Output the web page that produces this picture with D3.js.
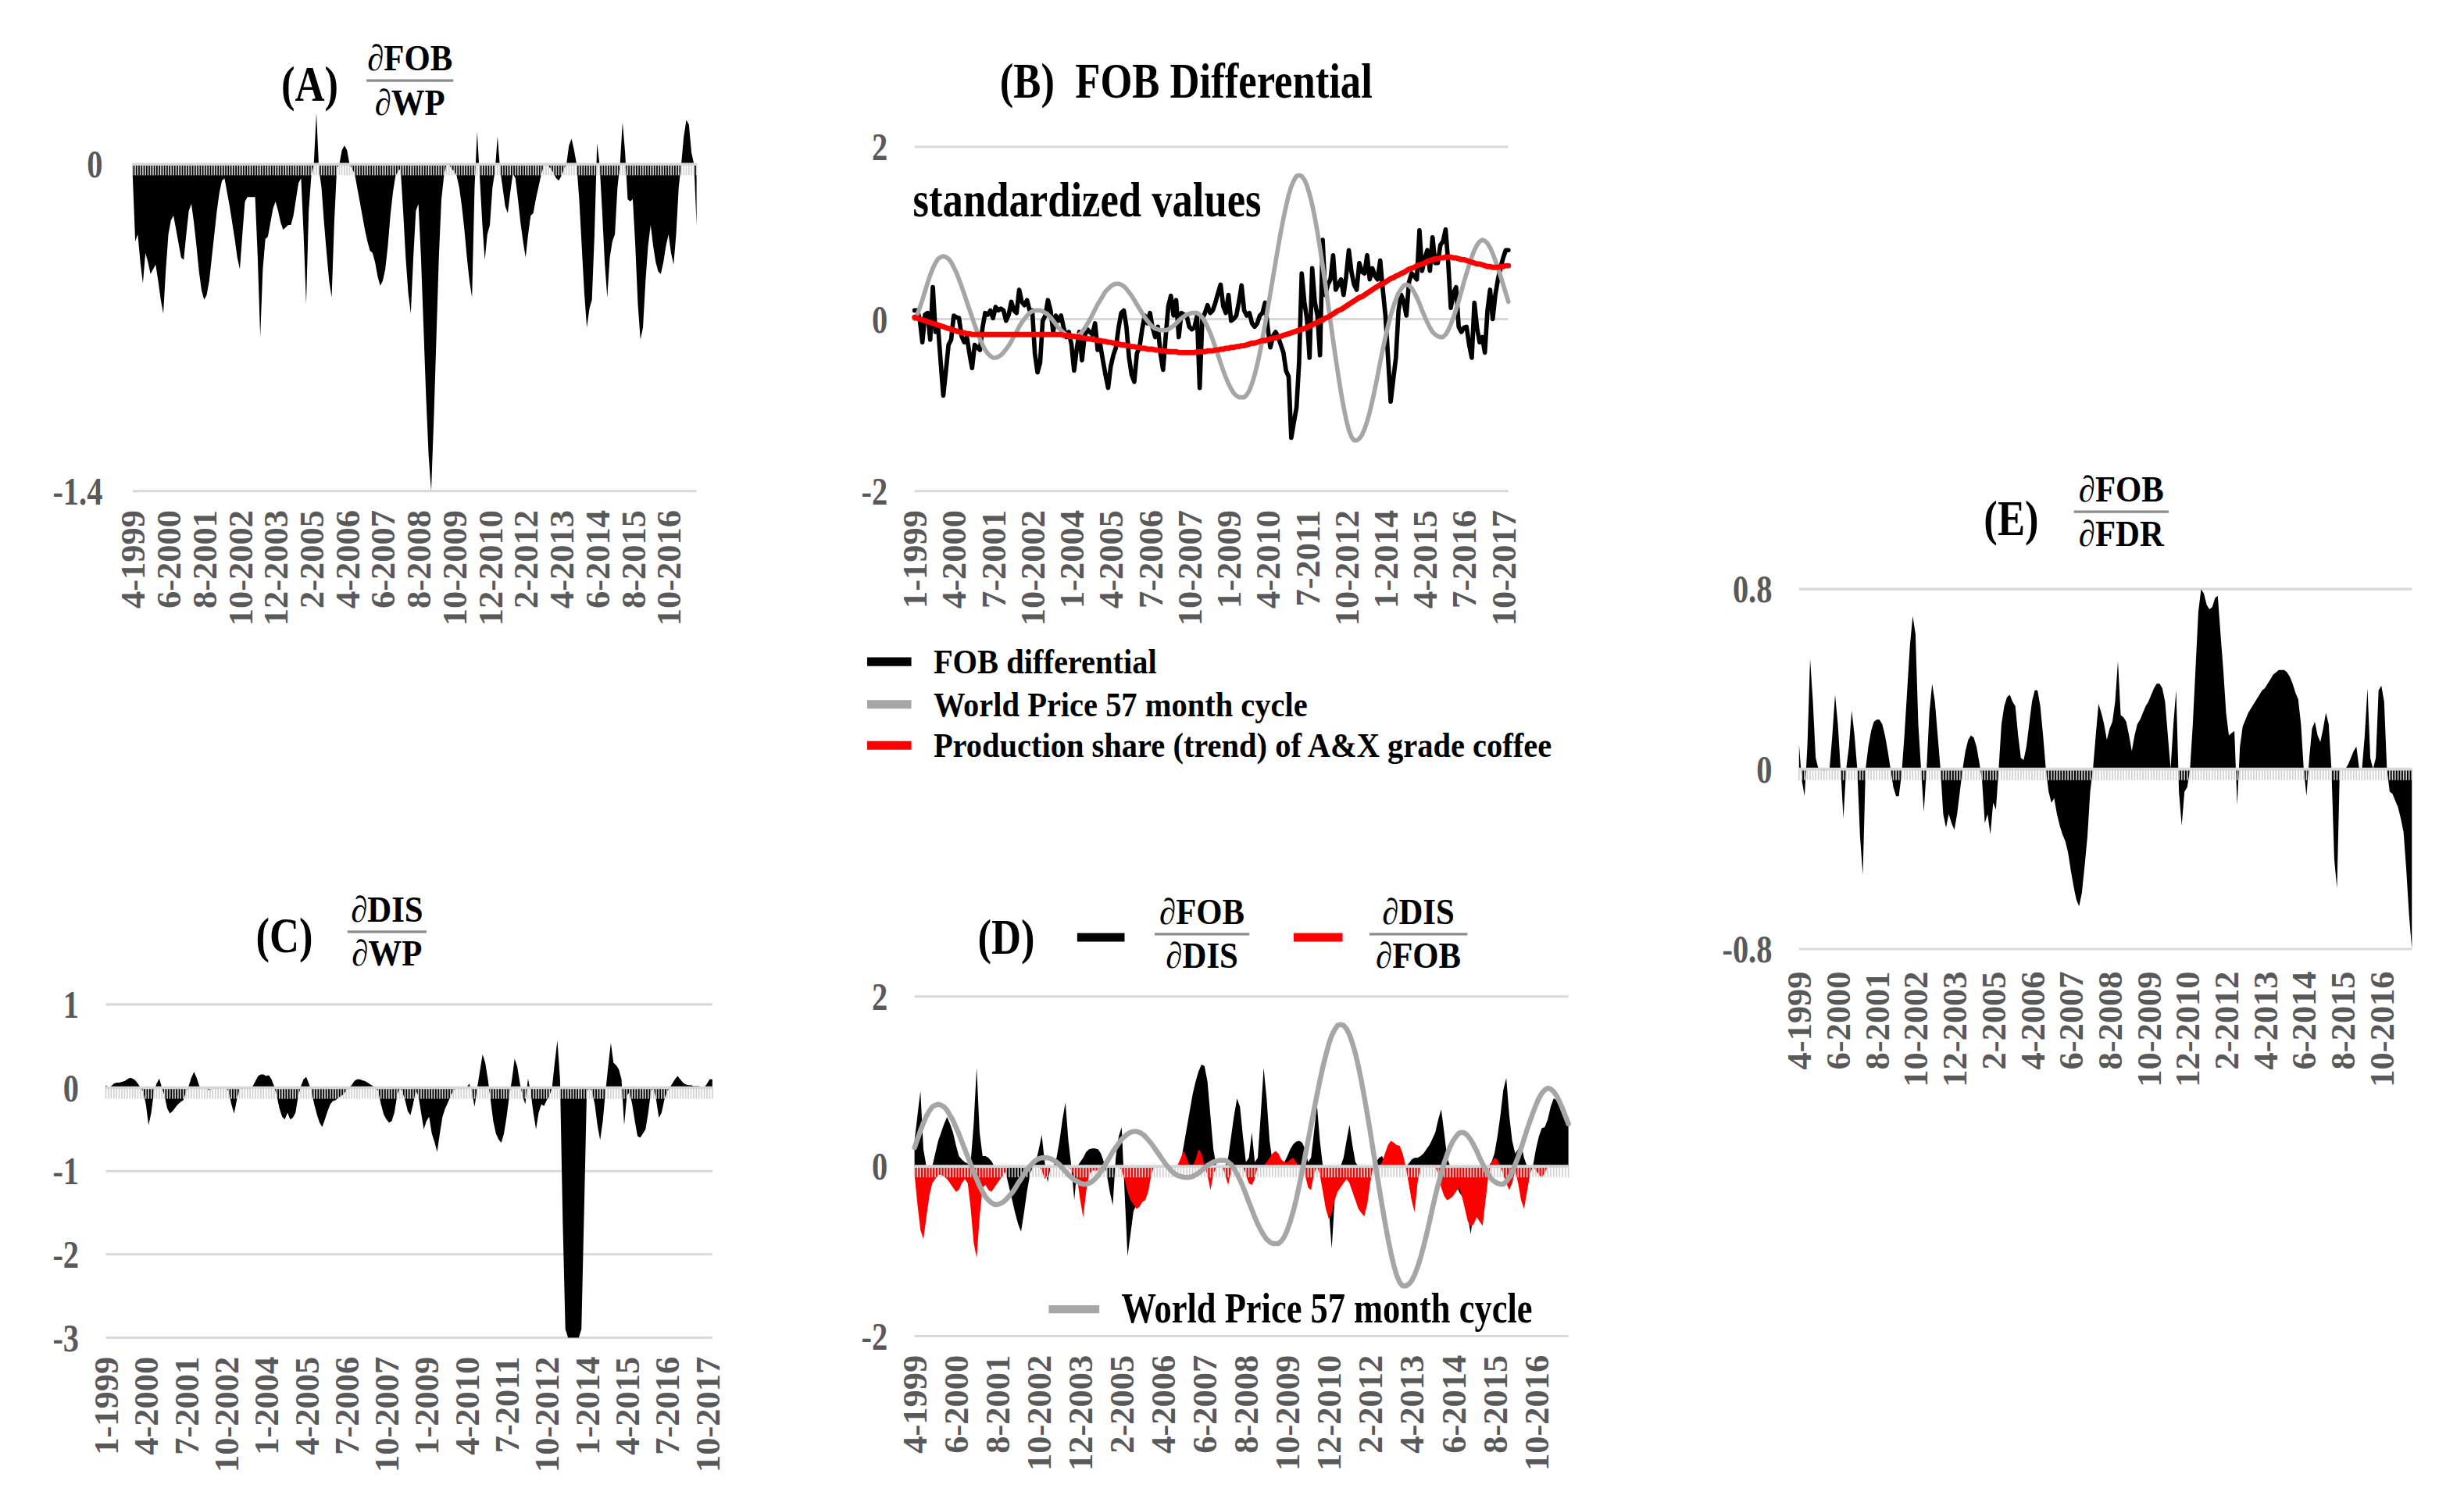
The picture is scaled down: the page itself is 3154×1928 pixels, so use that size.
<!DOCTYPE html>
<html><head><meta charset="utf-8">
<script src="https://cdn.jsdelivr.net/npm/d3@7"></script>
<style>
body{margin:0;background:#fff;}
svg{display:block;}
text{font-family:"Liberation Serif","Times New Roman",serif;font-weight:bold;white-space:pre;}
</style>
</head><body>
<svg id="chart" width="3154" height="1928" viewBox="0 0 1560 953.6"></svg>
<script>
// ---------------- DATA ----------------
const startAE = [4, 1999], countAE = 222;   // panels A, D, E : 4-1999 ...
const startBC = [1, 1999], countBC = 228;   // panels B, C    : 1-1999 ...
const ticksAE = ["4-1999","6-2000","8-2001","10-2002","12-2003","2-2005","4-2006","6-2007","8-2008","10-2009","12-2010","2-2012","4-2013","6-2014","8-2015","10-2016"];
const ticksBC = ["1-1999","4-2000","7-2001","10-2002","1-2004","4-2005","7-2006","10-2007","1-2009","4-2010","7-2011","10-2012","1-2014","4-2015","7-2016","10-2017"];

// (A) dFOB/dWP
const fobWP = [
 -0.05,-0.33,-0.30,-0.42,-0.51,-0.38,-0.42,-0.47,-0.45,-0.43,
 -0.50,-0.58,-0.64,-0.45,-0.30,-0.24,-0.22,-0.28,-0.34,-0.40,
 -0.41,-0.30,-0.20,-0.17,-0.25,-0.35,-0.46,-0.54,-0.58,-0.56,
 -0.50,-0.40,-0.30,-0.20,-0.12,-0.07,-0.06,-0.12,-0.18,-0.25,
 -0.32,-0.40,-0.45,-0.30,-0.16,-0.14,-0.14,-0.14,-0.14,-0.40,
 -0.74,-0.45,-0.32,-0.31,-0.25,-0.19,-0.16,-0.20,-0.25,-0.28,
 -0.27,-0.26,-0.26,-0.22,-0.15,-0.08,-0.06,-0.30,-0.60,-0.20,
 -0.05,0.00,0.22,-0.02,-0.10,-0.25,-0.38,-0.50,-0.57,-0.25,
 -0.02,0.00,0.06,0.08,0.06,0.00,-0.02,-0.04,-0.10,-0.16,
 -0.22,-0.28,-0.33,-0.37,-0.38,-0.42,-0.48,-0.52,-0.50,-0.45,
 -0.35,-0.22,-0.12,-0.05,-0.03,-0.02,-0.20,-0.40,-0.55,-0.64,
 -0.40,-0.20,-0.17,-0.40,-0.70,-1.00,-1.25,-1.40,-1.10,-0.75,
 -0.40,-0.15,-0.05,0.00,0.00,-0.02,-0.03,-0.05,-0.10,-0.18,
 -0.28,-0.40,-0.50,-0.57,-0.10,0.14,-0.05,-0.25,-0.41,-0.30,
 -0.26,-0.10,-0.03,0.12,-0.02,-0.10,-0.18,-0.21,-0.12,-0.04,
 -0.06,-0.15,-0.25,-0.33,-0.40,-0.30,-0.22,-0.21,-0.15,-0.10,
 -0.05,-0.01,0.00,-0.01,-0.02,-0.04,-0.06,-0.07,-0.05,-0.02,
 0.00,0.08,0.11,0.06,0.00,-0.15,-0.35,-0.55,-0.70,-0.62,
 -0.58,-0.30,0.09,0.00,-0.20,-0.42,-0.57,-0.40,-0.33,-0.30,
 -0.10,0.00,0.18,0.05,-0.15,-0.16,-0.15,-0.35,-0.60,-0.75,
 -0.70,-0.50,-0.35,-0.26,-0.35,-0.42,-0.46,-0.47,-0.42,-0.35,
 -0.30,-0.38,-0.43,-0.30,-0.10,0.00,0.12,0.19,0.17,0.05,
 0.00,-0.26];

// (B) FOB differential (standardized)
const fobDiff = [
 0.10,0.10,0.00,-0.27,0.05,0.07,-0.24,0.37,-0.15,-0.09,
 -0.50,-0.89,-0.60,-0.30,-0.24,0.04,0.02,0.01,-0.20,-0.27,
 -0.21,-0.40,-0.57,-0.30,-0.33,-0.36,-0.10,0.07,0.05,0.10,
 0.01,0.14,0.10,0.12,0.10,-0.02,0.05,0.20,0.10,0.07,
 0.34,0.20,0.16,0.22,0.10,0.10,-0.40,-0.62,-0.51,-0.02,
 0.04,0.22,0.10,-0.15,0.04,-0.02,0.04,-0.10,-0.21,-0.15,
 -0.30,-0.60,-0.35,-0.15,-0.48,-0.20,-0.12,-0.15,-0.18,-0.05,
 -0.36,-0.30,-0.48,-0.65,-0.80,-0.55,-0.42,-0.33,-0.10,0.07,
 0.10,-0.09,-0.45,-0.65,-0.73,-0.40,-0.33,-0.12,0.04,-0.05,
 0.07,-0.10,-0.21,-0.09,-0.40,-0.59,-0.21,0.15,0.27,0.04,
 0.22,-0.21,0.07,0.05,0.04,-0.09,-0.12,-0.10,0.04,-0.80,
 0.00,0.07,0.16,0.07,0.10,0.19,0.30,0.40,0.15,0.07,
 0.28,-0.02,0.00,0.04,0.20,0.39,0.10,0.04,0.07,-0.05,
 -0.09,-0.05,0.04,0.07,0.19,-0.10,-0.33,-0.20,-0.15,-0.21,
 -0.30,-0.39,-0.60,-0.67,-1.38,-1.20,-1.03,-0.50,0.53,0.20,
 0.00,-0.45,0.59,0.20,0.04,-0.42,0.92,0.28,0.40,0.46,
 0.74,0.34,0.40,0.46,0.28,0.50,0.80,0.55,0.40,0.34,
 0.65,0.55,0.53,0.74,0.46,0.59,0.50,0.46,0.68,0.34,
 0.04,-0.45,-0.96,-0.70,-0.45,0.10,0.28,0.20,0.04,0.43,
 0.53,0.50,0.46,1.03,0.56,0.70,0.80,0.56,0.95,0.65,
 0.65,0.86,0.90,1.04,0.65,0.13,0.30,0.37,-0.09,-0.15,
 -0.10,-0.09,-0.30,-0.45,0.19,-0.10,-0.27,-0.21,-0.39,0.10,
 0.34,0.00,0.28,0.46,0.60,0.71,0.80,0.80];

// World Price 57 month cycle (from 1-1999)
const worldCycle = [
 0.00,0.05,0.13,0.22,0.32,0.42,0.51,0.59,0.65,0.70,0.72,0.73,
 0.72,0.70,0.66,0.60,0.54,0.46,0.38,0.29,0.20,0.11,0.02,-0.07,-0.15,-0.23,-0.30,-0.36,-0.40,-0.43,-0.45,-0.45,
 -0.44,-0.42,-0.39,-0.35,-0.31,-0.26,-0.20,-0.15,-0.09,-0.04,0.00,0.04,0.07,0.09,0.10,0.10,0.10,
 0.09,0.07,0.05,0.02,-0.02,-0.06,-0.10,-0.13,-0.16,-0.18,-0.20,-0.21,-0.21,
 -0.20,-0.18,-0.15,-0.11,-0.06,-0.01,0.05,0.11,0.17,0.22,0.27,0.32,0.35,0.38,0.40,0.41,0.41,
 0.40,0.38,0.35,0.31,0.27,0.22,0.17,0.12,0.07,0.02,-0.02,-0.06,-0.09,-0.11,-0.12,-0.13,-0.13,-0.13,
 -0.12,-0.10,-0.08,-0.05,-0.02,0.01,0.03,0.05,0.06,0.07,0.07,0.07,
 0.05,0.02,-0.03,-0.09,-0.16,-0.24,-0.33,-0.42,-0.51,-0.60,-0.68,-0.75,-0.81,-0.86,-0.89,-0.91,-0.91,-0.91,
 -0.88,-0.83,-0.75,-0.65,-0.53,-0.39,-0.23,-0.06,0.12,0.30,0.48,0.66,0.84,1.01,1.17,1.31,1.44,1.54,1.61,1.66,1.67,
 1.66,1.62,1.55,1.45,1.33,1.18,1.01,0.82,0.62,0.41,0.19,-0.03,-0.25,-0.46,-0.66,-0.85,-1.02,-1.17,-1.29,-1.37,-1.41,-1.41,
 -1.39,-1.35,-1.28,-1.19,-1.08,-0.95,-0.81,-0.66,-0.50,-0.35,-0.21,-0.08,0.04,0.14,0.23,0.30,0.35,0.39,0.40,
 0.39,0.36,0.31,0.25,0.18,0.10,0.03,-0.04,-0.10,-0.15,-0.18,-0.20,-0.21,-0.21,
 -0.18,-0.13,-0.06,0.02,0.11,0.21,0.32,0.43,0.53,0.63,0.72,0.80,0.86,0.90,0.92,
 0.91,0.88,0.83,0.76,0.68,0.59,0.50,0.40,0.30,0.20];

// Production share (trend) of A&X grade coffee
const prodShare = [
 0.02,0.01,0.00,-0.01,-0.02,-0.03,-0.04,-0.05,-0.06,-0.07,
 -0.08,-0.09,-0.10,-0.11,-0.12,-0.13,-0.14,-0.15,-0.16,-0.16,
 -0.17,-0.17,-0.18,-0.18,-0.18,-0.18,-0.18,-0.18,-0.18,-0.18,
 -0.18,-0.18,-0.18,-0.18,-0.18,-0.18,-0.18,-0.18,-0.18,-0.18,
 -0.18,-0.18,-0.18,-0.18,-0.18,-0.18,-0.18,-0.18,-0.18,-0.18,
 -0.18,-0.18,-0.18,-0.18,-0.18,-0.18,-0.18,-0.19,-0.19,-0.19,
 -0.20,-0.20,-0.21,-0.21,-0.22,-0.22,-0.23,-0.23,-0.24,-0.24,
 -0.25,-0.25,-0.26,-0.26,-0.27,-0.27,-0.28,-0.28,-0.29,-0.30,
 -0.30,-0.31,-0.31,-0.32,-0.32,-0.33,-0.33,-0.34,-0.34,-0.35,
 -0.35,-0.35,-0.36,-0.36,-0.37,-0.37,-0.37,-0.38,-0.38,-0.38,
 -0.38,-0.39,-0.39,-0.39,-0.39,-0.39,-0.39,-0.39,-0.38,-0.38,
 -0.38,-0.38,-0.37,-0.37,-0.37,-0.36,-0.36,-0.35,-0.35,-0.34,
 -0.34,-0.33,-0.33,-0.32,-0.32,-0.31,-0.31,-0.30,-0.29,-0.28,
 -0.28,-0.27,-0.26,-0.25,-0.25,-0.24,-0.23,-0.22,-0.22,-0.21,
 -0.20,-0.19,-0.18,-0.17,-0.16,-0.15,-0.14,-0.13,-0.12,-0.11,
 -0.10,-0.08,-0.07,-0.05,-0.04,-0.02,-0.01,0.01,0.02,0.04,
 0.06,0.08,0.10,0.11,0.13,0.15,0.17,0.19,0.21,0.23,
 0.25,0.26,0.28,0.30,0.32,0.34,0.36,0.38,0.40,0.41,
 0.43,0.45,0.47,0.48,0.50,0.51,0.53,0.54,0.56,0.58,
 0.59,0.60,0.62,0.63,0.64,0.65,0.67,0.68,0.69,0.70,
 0.70,0.71,0.71,0.72,0.72,0.72,0.71,0.71,0.70,0.69,
 0.69,0.68,0.67,0.66,0.65,0.64,0.64,0.63,0.62,0.61,
 0.61,0.60,0.60,0.60,0.61,0.61,0.62,0.62];

// (C) dDIS/dWP
const disWP = [
 0.03,0.00,0.02,0.05,0.06,0.06,0.07,0.08,0.10,0.12,
 0.11,0.09,0.05,0.00,-0.05,-0.20,-0.45,-0.30,-0.05,0.05,
 0.11,0.00,-0.10,-0.25,-0.31,-0.28,-0.24,-0.20,-0.17,-0.15,
 -0.05,0.02,0.12,0.19,0.12,0.02,0.00,0.00,-0.02,-0.03,
 0.00,0.00,-0.02,0.00,0.00,0.00,-0.05,-0.20,-0.31,-0.15,
 -0.02,0.00,0.00,-0.02,0.00,0.02,0.08,0.14,0.16,0.16,
 0.14,0.15,0.10,0.02,-0.10,-0.25,-0.35,-0.38,-0.30,-0.38,
 -0.36,-0.30,-0.10,0.02,0.10,0.13,0.05,-0.05,-0.20,-0.32,
 -0.42,-0.47,-0.38,-0.28,-0.20,-0.16,-0.15,-0.12,-0.10,-0.08,
 -0.03,0.00,0.03,0.08,0.10,0.10,0.09,0.08,0.06,0.04,
 0.02,0.00,-0.05,-0.20,-0.32,-0.38,-0.42,-0.40,-0.30,-0.10,
 0.00,-0.05,-0.15,-0.28,-0.33,-0.20,-0.03,-0.10,-0.30,-0.50,
 -0.40,-0.35,-0.55,-0.65,-0.77,-0.55,-0.35,-0.25,-0.18,-0.10,
 -0.04,0.00,0.00,-0.02,0.00,0.00,0.05,-0.05,-0.23,0.00,
 0.20,0.40,0.30,0.10,-0.15,-0.40,-0.55,-0.62,-0.66,-0.55,
 -0.35,-0.10,0.10,0.35,0.25,0.05,-0.10,-0.20,0.11,-0.05,
 -0.30,-0.50,-0.30,-0.20,-0.22,-0.15,-0.10,0.00,0.30,0.57,
 0.10,-1.60,-2.90,-3.00,-3.00,-3.00,-3.00,-3.00,-2.90,-1.50,
 -0.05,0.00,-0.05,-0.20,-0.45,-0.63,-0.40,-0.05,0.25,0.54,
 0.30,0.27,0.22,0.10,-0.45,-0.10,-0.05,-0.20,-0.40,-0.58,
 -0.60,-0.55,-0.50,-0.30,-0.05,0.00,-0.15,-0.36,-0.30,-0.15,
 -0.05,0.00,0.05,0.10,0.14,0.10,0.06,0.04,0.03,0.03,
 0.02,0.02,0.02,0.00,0.00,0.05,0.10,0.10];

// (D) dFOB/dDIS (black) and dDIS/dFOB (red)
const fobDIS = [
 0.30,0.60,0.89,0.20,0.00,0.00,0.00,0.15,0.30,0.40,
 0.50,0.58,0.50,0.40,0.25,0.12,0.08,0.05,0.03,0.05,
 0.50,1.16,0.40,0.12,0.12,0.10,0.06,0.00,0.00,0.00,
 0.00,-0.10,-0.25,-0.40,-0.55,-0.68,-0.77,-0.55,-0.30,-0.10,
 0.00,0.05,0.20,0.37,0.05,-0.19,0.00,0.00,0.10,0.30,
 0.55,0.75,0.30,0.00,-0.40,0.00,0.05,0.10,0.17,0.20,
 0.21,0.21,0.20,0.15,0.05,-0.10,-0.30,-0.46,0.10,0.35,
 0.46,-0.30,-1.06,-0.80,-0.53,-0.45,-0.40,-0.35,-0.20,-0.05,
 0.00,0.00,0.00,0.00,0.00,0.00,0.00,0.00,0.00,0.00,
 0.05,0.25,0.45,0.65,0.85,1.00,1.12,1.20,1.18,1.00,
 0.60,0.20,0.00,0.00,0.00,0.00,0.10,0.35,0.60,0.80,
 0.70,0.35,0.05,0.10,0.40,0.05,0.10,0.60,1.16,0.80,
 0.30,0.05,0.10,0.10,0.05,0.05,0.12,0.20,0.26,0.29,
 0.30,0.28,0.20,0.05,0.10,0.40,0.73,0.30,0.00,-0.20,
 -0.50,-0.97,-0.40,0.00,0.00,0.10,0.30,0.49,0.25,0.05,
 0.00,0.00,0.00,0.00,0.00,0.00,0.05,0.10,0.12,0.05,
 0.00,0.00,0.00,0.00,0.00,0.00,0.00,0.03,0.08,0.10,
 0.10,0.12,0.15,0.20,0.25,0.32,0.40,0.55,0.67,0.40,
 0.10,0.00,-0.10,-0.20,-0.30,-0.35,-0.45,-0.60,-0.80,-0.50,
 -0.30,-0.15,0.00,0.00,0.00,0.05,0.15,0.35,0.60,0.90,
 1.04,0.60,0.30,0.15,0.20,0.27,0.10,0.00,0.00,0.00,
 0.20,0.35,0.45,0.46,0.55,0.70,0.80,0.78,0.70,0.62,
 0.56,0.52];
const disFOB = [
 -0.10,-0.45,-0.75,-0.86,-0.60,-0.35,-0.20,-0.15,-0.10,-0.10,
 -0.12,-0.15,-0.20,-0.25,-0.30,-0.28,-0.20,-0.15,-0.20,-0.50,
 -0.90,-1.08,-0.60,-0.25,-0.22,-0.28,-0.30,-0.25,-0.20,-0.15,
 -0.10,-0.05,0.00,0.00,0.00,0.00,0.00,0.00,0.00,0.00,
 0.00,0.00,0.00,-0.05,-0.15,-0.10,0.00,0.00,0.00,0.00,
 0.00,0.00,0.00,-0.05,-0.10,-0.15,-0.40,-0.60,-0.30,-0.10,
 -0.05,-0.05,-0.05,0.00,0.00,0.00,0.00,0.00,0.00,0.00,
 -0.05,-0.15,-0.30,-0.40,-0.45,-0.50,-0.48,-0.42,-0.40,-0.30,
 -0.10,0.00,0.00,0.00,0.00,0.00,0.00,0.00,0.00,0.02,
 0.10,0.18,0.10,0.00,0.00,0.08,0.20,0.15,0.00,-0.10,
 -0.28,-0.10,0.00,0.00,0.00,-0.10,-0.22,-0.05,0.00,0.00,
 0.00,0.00,-0.10,-0.20,-0.22,-0.15,0.00,0.00,0.00,0.05,
 0.10,0.15,0.18,0.15,0.08,0.05,0.05,0.08,0.10,0.05,
 0.00,0.00,-0.10,-0.25,-0.28,-0.10,0.00,-0.10,-0.30,-0.50,
 -0.62,-0.55,-0.40,-0.30,-0.25,-0.20,-0.15,-0.20,-0.30,-0.40,
 -0.50,-0.55,-0.59,-0.45,-0.20,0.00,0.00,0.00,0.05,0.15,
 0.25,0.30,0.28,0.25,0.24,0.15,0.00,-0.20,-0.40,-0.54,
 -0.20,0.00,0.00,0.00,0.00,0.00,0.00,-0.10,-0.25,-0.35,
 -0.40,-0.38,-0.35,-0.30,-0.25,-0.35,-0.50,-0.65,-0.71,-0.68,
 -0.60,-0.65,-0.70,-0.40,-0.10,0.05,0.10,0.08,0.00,-0.10,
 -0.20,-0.28,-0.20,-0.05,-0.20,-0.40,-0.50,-0.30,-0.10,0.00,
 -0.05,-0.10,-0.13,-0.08,0.00,0.00,0.00,0.00,0.00,0.00,
 0.00,0.00];
// World price cycle on the panel D axis (same series, from 4-1999)
const worldCycleD = worldCycle.slice(3, 3 + countAE);

// (E) dFOB/dFDR
const fobFDR = [
 0.11,-0.05,-0.12,0.10,0.49,0.30,0.05,0.00,0.00,-0.01,
 0.00,0.00,0.15,0.33,0.20,0.00,-0.22,0.00,0.10,0.26,
 0.15,0.00,-0.30,-0.47,0.00,0.10,0.17,0.21,0.22,0.22,
 0.20,0.15,0.08,0.00,-0.08,-0.12,-0.12,-0.02,0.15,0.35,
 0.55,0.68,0.60,0.20,0.00,-0.19,0.00,0.25,0.38,0.30,
 0.15,0.00,-0.20,-0.26,-0.20,-0.24,-0.27,-0.20,-0.10,0.00,
 0.08,0.13,0.15,0.14,0.10,0.03,-0.05,-0.24,-0.20,-0.29,
 -0.15,-0.18,0.00,0.20,0.28,0.32,0.33,0.30,0.28,0.15,
 0.05,0.04,0.10,0.20,0.30,0.35,0.35,0.28,0.15,0.00,
 -0.10,-0.15,-0.13,-0.20,-0.25,-0.29,-0.32,-0.37,-0.45,-0.52,
 -0.58,-0.61,-0.55,-0.43,-0.30,-0.10,0.00,0.15,0.29,0.25,
 0.20,0.13,0.18,0.21,0.30,0.48,0.24,0.23,0.21,0.15,
 0.08,0.15,0.20,0.22,0.25,0.28,0.30,0.33,0.36,0.38,
 0.38,0.36,0.30,0.15,0.00,0.20,0.35,-0.10,-0.25,-0.10,
 -0.08,0.00,0.20,0.45,0.70,0.80,0.78,0.73,0.71,0.72,
 0.76,0.77,0.60,0.44,0.25,0.15,0.16,0.17,-0.16,0.10,
 0.19,0.22,0.25,0.27,0.29,0.31,0.33,0.35,0.36,0.38,
 0.40,0.42,0.43,0.44,0.44,0.44,0.43,0.41,0.38,0.34,
 0.31,0.20,0.00,-0.12,0.05,0.18,0.21,0.15,0.12,0.18,
 0.25,0.20,0.00,-0.40,-0.53,0.00,0.00,0.00,0.02,0.05,
 0.08,0.10,0.00,0.00,0.15,0.36,0.05,0.00,0.05,0.35,
 0.37,0.30,0.00,-0.10,-0.11,-0.14,-0.17,-0.22,-0.28,-0.45,
 -0.65,-0.80];

// ---------------- DRAWING ----------------
function months(start, n) {
  const out = []; let m = start[0], y = start[1];
  for (let i = 0; i < n; i++) { out.push(m + "-" + y); m++; if (m > 12) { m = 1; y++; } }
  return out;
}
const catsAE = months(startAE, countAE);
const catsBC = months(startBC, countBC);

const svg = d3.select("#chart");
const GRID = "#d9d9d9", LABEL = "#595959", GRAY = "#a6a6a6", RED = "#ff0000";

function sText(g, x, y, str, size, anchor, fill, sx) {
  return g.append("text")
    .attr("transform", `translate(${x},${y}) scale(${sx || 0.87},1)`)
    .attr("text-anchor", anchor).attr("fill", fill)
    .style("font-size", size + "px").text(str);
}
function frac(g, cx, ly, half, num, den) {
  g.append("line").attr("x1", cx - half).attr("x2", cx + half).attr("y1", ly).attr("y2", ly)
    .attr("stroke", "#8c8c8c").attr("stroke-width", 1.6);
  sText(g, cx, ly - 6.5, num, 23, "middle", "#000", 0.92);
  sText(g, cx, ly + 21.5, den, 23, "middle", "#000", 0.92);
}

function panel(o) {
  const g = svg.append("g");
  const x = d3.scalePoint().domain(o.cats).range([o.x0, o.x1]);
  const y = d3.scaleLinear().domain(o.yDomain).range(o.yRange);
  g.selectAll(null).data(o.grid).join("line")
    .attr("x1", o.x0).attr("x2", o.x1).attr("y1", d => y(d)).attr("y2", d => y(d))
    .attr("stroke", GRID).attr("stroke-width", 1.5);
  o.yTicks.forEach(v => sText(g, o.labelRight, y(v) + 8.5, String(v), 25, "end", LABEL, 0.8));
  g.selectAll(null).data(o.xTicks).join("text")
    .attr("transform", d => `translate(${x(d)},${o.yRange[0] + (o.labOff || 12)}) rotate(-90)`)
    .attr("text-anchor", "end").attr("dy", "0.35em")
    .attr("fill", LABEL).style("font-size", "22px").text(d => d);
  return { g, x, y, o };
}
function areaSeries(p, data, color) {
  const a = d3.area().x((d, i) => p.x(p.o.cats[i])).y0(p.y(0)).y1(d => p.y(d));
  p.g.append("path").datum(data).attr("d", a).attr("fill", color);
}
function lineSeries(p, data, color, w) {
  const l = d3.line().x((d, i) => p.x(p.o.cats[i])).y(d => p.y(d));
  p.g.append("path").datum(data).attr("d", l).attr("fill", "none")
    .attr("stroke", color).attr("stroke-width", w)
    .attr("stroke-linejoin", "round").attr("stroke-linecap", "round");
}
function band(p) {
  const y0 = p.y(0);
  p.g.append("line").attr("x1", p.o.x0).attr("x2", p.o.x1).attr("y1", y0).attr("y2", y0)
    .attr("stroke", GRID).attr("stroke-width", 1.8);
  p.g.selectAll(null).data(p.o.cats).join("line")
    .attr("x1", d => p.x(d)).attr("x2", d => p.x(d)).attr("y1", y0).attr("y2", y0 + 7)
    .attr("stroke", "#d0d0d0").attr("stroke-width", 0.8);
}

// ----- Panel A -----
const pA = panel({ cats: catsAE, x0: 84, x1: 441, yDomain: [-1.4, 0], yRange: [311, 104],
  grid: [-1.4], yTicks: [0, -1.4], labelRight: 65, xTicks: ticksAE });
areaSeries(pA, fobWP, "#000");
band(pA);
sText(pA.g, 178, 64, "(A)", 31, "start", "#000", 0.84);
frac(pA.g, 259.5, 51, 27.5, "∂FOB", "∂WP");

// ----- Panel B -----
const pB = panel({ cats: catsBC, x0: 579, x1: 955, yDomain: [-2, 2], yRange: [311, 93],
  grid: [2, 0, -2], yTicks: [2, 0, -2], labelRight: 562, xTicks: ticksBC });
lineSeries(pB, fobDiff, "#000", 2.8);
lineSeries(pB, worldCycle, GRAY, 2.8);
lineSeries(pB, prodShare, RED, 3.4);
sText(pB.g, 633, 62, "(B)  FOB Differential", 31, "start", "#000", 0.84);
sText(pB.g, 578, 137, "standardized values", 31, "start", "#000", 0.84);
const legB = [["FOB differential", "#000", 419], ["World Price 57 month cycle", GRAY, 446],
              ["Production share (trend) of A&X grade coffee", RED, 472]];
legB.forEach(([t, c, yy]) => {
  pB.g.append("line").attr("x1", 549).attr("x2", 577).attr("y1", yy).attr("y2", yy)
    .attr("stroke", c).attr("stroke-width", 5.5);
  sText(pB.g, 591, yy + 7.5, t, 22, "start", "#000", 0.91);
});

// ----- Panel C -----
const pC = panel({ cats: catsBC, x0: 67, x1: 451, yDomain: [-3, 1], yRange: [847, 636],
  grid: [1, -1, -2, -3], yTicks: [1, 0, -1, -2, -3], labelRight: 50, xTicks: ticksBC });
areaSeries(pC, disWP, "#000");
band(pC);
sText(pC.g, 162, 603, "(C)", 31, "start", "#000", 0.84);
frac(pC.g, 245, 590, 25, "∂DIS", "∂WP");

// ----- Panel D -----
const pD = panel({ cats: catsAE, x0: 579, x1: 993, yDomain: [-2, 2], yRange: [846, 631],
  grid: [2, -2], yTicks: [2, 0, -2], labelRight: 562, xTicks: ticksAE });
areaSeries(pD, fobDIS, "#000");
areaSeries(pD, disFOB, RED);
band(pD);
lineSeries(pD, worldCycleD, GRAY, 3.2);
sText(pD.g, 619, 604, "(D)", 31, "start", "#000", 0.84);
pD.g.append("line").attr("x1", 682).attr("x2", 712).attr("y1", 593.5).attr("y2", 593.5)
  .attr("stroke", "#000").attr("stroke-width", 5.5);
frac(pD.g, 761, 591.5, 30, "∂FOB", "∂DIS");
pD.g.append("line").attr("x1", 819).attr("x2", 850).attr("y1", 593.5).attr("y2", 593.5)
  .attr("stroke", RED).attr("stroke-width", 5.5);
frac(pD.g, 898, 591.5, 31, "∂DIS", "∂FOB");
pD.g.append("line").attr("x1", 664).attr("x2", 696).attr("y1", 829).attr("y2", 829)
  .attr("stroke", GRAY).attr("stroke-width", 5);
sText(pD.g, 710, 837.5, "World Price 57 month cycle", 27.5, "start", "#000", 0.8);

// ----- Panel E -----
const pE = panel({ cats: catsAE, x0: 1139, x1: 1527, yDomain: [-0.8, 0.8], yRange: [601, 373],
  grid: [0.8, -0.8], yTicks: [0.8, 0, -0.8], labelRight: 1122, xTicks: ticksAE, labOff: 14 });
areaSeries(pE, fobFDR, "#000");
band(pE);
sText(pE.g, 1256, 339, "(E)", 31, "start", "#000", 0.84);
frac(pE.g, 1343, 324, 30, "∂FOB", "∂FDR");
</script>
</body></html>
